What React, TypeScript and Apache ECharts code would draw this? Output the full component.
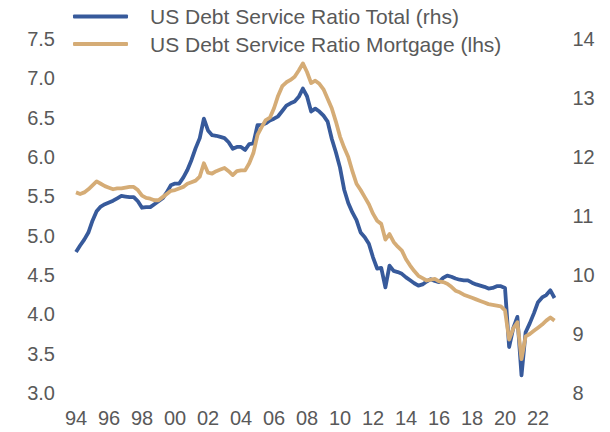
import React, { useEffect, useRef } from "react";
import * as echarts from "echarts";

// Quarterly categories 1994Q1 .. 2023Q1
const years: number[] = [];
for (let y = 1994; y <= 2023; y++) years.push(y);
const quarters: string[] = [];
years.forEach((y) => ["Q1", "Q2", "Q3", "Q4"].forEach((q) => quarters.push(`${y}${q}`)));
const categories = quarters.slice(0, 117);

const xTickLabels = ["94", "96", "98", "00", "02", "04", "06", "08", "10", "12", "14", "16", "18", "20", "22"];
const leftTicks = ["3.0", "3.5", "4.0", "4.5", "5.0", "5.5", "6.0", "6.5", "7.0", "7.5"];
const rightTicks = ["8", "9", "10", "11", "12", "13", "14"];

// US Debt Service Ratio Total (rhs)
const totalDSR = [
  10.39, 10.5, 10.6, 10.72, 10.92, 11.08, 11.16, 11.2, 11.23, 11.26, 11.3, 11.34,
  11.33, 11.32, 11.32, 11.25, 11.14, 11.15, 11.15, 11.2, 11.25, 11.3, 11.4, 11.52,
  11.55, 11.55, 11.65, 11.78, 11.95, 12.15, 12.32, 12.65, 12.45, 12.37, 12.36, 12.34,
  12.32, 12.25, 12.14, 12.17, 12.17, 12.12, 12.22, 12.23, 12.54, 12.54, 12.57, 12.62,
  12.65, 12.69, 12.78, 12.87, 12.91, 12.94, 13.02, 13.16, 13.03, 12.77, 12.82, 12.77,
  12.7, 12.6, 12.31, 12.08, 11.82, 11.45, 11.22, 11.06, 10.93, 10.72, 10.64, 10.53,
  10.3, 10.11, 10.12, 9.79, 10.16, 10.07, 10.05, 10.02, 9.96, 9.91, 9.86, 9.82,
  9.84, 9.89, 9.93, 9.9, 9.88, 9.95, 9.99, 9.97, 9.94, 9.92, 9.91, 9.91,
  9.87, 9.84, 9.82, 9.8, 9.77, 9.78, 9.81, 9.81, 9.78, 8.78, 9.1, 9.29,
  8.3, 9.03, 9.18, 9.35, 9.54, 9.62, 9.66, 9.74, 9.61,
];

// US Debt Service Ratio Mortgage (lhs)
const mortgageDSR = [
  5.55, 5.53, 5.55, 5.59, 5.64, 5.69, 5.66, 5.63, 5.61, 5.59, 5.6, 5.6,
  5.61, 5.62, 5.62, 5.58, 5.51, 5.48, 5.47, 5.45, 5.45, 5.49, 5.53, 5.57,
  5.58, 5.6, 5.62, 5.66, 5.68, 5.7, 5.75, 5.92, 5.8, 5.79, 5.82, 5.84,
  5.86, 5.82, 5.77, 5.82, 5.83, 5.83, 5.92, 6.05, 6.28, 6.38, 6.47, 6.5,
  6.62, 6.78, 6.9, 6.95, 6.98, 7.02, 7.1, 7.19, 7.08, 6.94, 6.97, 6.93,
  6.86, 6.74, 6.62, 6.45, 6.26, 6.12, 6.0, 5.82, 5.66, 5.58, 5.49, 5.4,
  5.28, 5.19, 5.15, 4.95, 5.02, 4.92, 4.86, 4.81, 4.7, 4.62, 4.55, 4.49,
  4.46, 4.43, 4.44, 4.45, 4.42, 4.41, 4.39, 4.35, 4.3, 4.28, 4.25, 4.23,
  4.21, 4.19, 4.17, 4.15, 4.13, 4.12, 4.11, 4.1, 4.05, 3.68, 3.82, 3.9,
  3.43, 3.72, 3.75, 3.79, 3.83, 3.87, 3.92, 3.96, 3.92,
];

const BLUE = "#375a9b";
const TAN = "#d5ac76";
const TEXT = "#595959";
const FONT = "'Liberation Sans', Arial, Helvetica, sans-serif";
const AXIS_FS = 20;
const LEGEND_FS = 21;

export default function App() {
  const ref = useRef<HTMLDivElement>(null);

  useEffect(() => {
    if (!ref.current) return;
    const chart = echarts.init(ref.current, undefined, { renderer: "svg" });
    chart.setOption({
      animation: false,
      backgroundColor: "#ffffff",
      textStyle: { fontFamily: FONT },
      legend: {
        orient: "vertical",
        left: 73,
        top: 6,
        padding: 0,
        itemWidth: 55,
        itemHeight: 4,
        itemGap: 6.6,
        icon: "roundRect",
        data: ["US Debt Service Ratio Total (rhs)", "US Debt Service Ratio Mortgage (lhs)"],
        textStyle: {
          color: TEXT,
          fontSize: LEGEND_FS,
          lineHeight: 21,
          fontFamily: FONT,
          padding: [0, 0, 0, 17],
        },
      },
      grid: { left: 76, right: 55.5, top: 39, bottom: 39, containLabel: false },
      xAxis: {
        type: "category",
        data: categories,
        boundaryGap: false,
        axisLine: { show: false },
        axisTick: { show: false },
        splitLine: { show: false },
        axisLabel: {
          interval: (idx: number) => idx % 8 === 0,
          formatter: (_v: string, idx: number) => xTickLabels[idx / 8] ?? "",
          color: TEXT,
          fontSize: AXIS_FS,
          fontFamily: FONT,
          margin: 15,
        },
      },
      yAxis: [
        {
          type: "value",
          position: "left",
          min: Number(leftTicks[0]),
          max: Number(leftTicks[leftTicks.length - 1]),
          interval: 0.5,
          axisLine: { show: false },
          axisTick: { show: false },
          splitLine: { show: false },
          axisLabel: {
            formatter: (v: number) => v.toFixed(1),
            color: TEXT,
            fontSize: AXIS_FS,
            fontFamily: FONT,
            margin: 21,
          },
        },
        {
          type: "value",
          position: "right",
          min: Number(rightTicks[0]),
          max: Number(rightTicks[rightTicks.length - 1]),
          interval: 1,
          axisLine: { show: false },
          axisTick: { show: false },
          splitLine: { show: false },
          axisLabel: {
            formatter: (v: number) => String(v),
            color: TEXT,
            fontSize: AXIS_FS,
            fontFamily: FONT,
            margin: 18,
            align: "left",
          },
        },
      ],
      series: [
        {
          name: "US Debt Service Ratio Total (rhs)",
          type: "line",
          yAxisIndex: 1,
          data: totalDSR,
          showSymbol: false,
          symbol: "none",
          lineStyle: { color: BLUE, width: 3.8, join: "round" },
          itemStyle: { color: BLUE },
        },
        {
          name: "US Debt Service Ratio Mortgage (lhs)",
          type: "line",
          yAxisIndex: 0,
          data: mortgageDSR,
          showSymbol: false,
          symbol: "none",
          lineStyle: { color: TAN, width: 3.8, join: "round" },
          itemStyle: { color: TAN },
        },
      ],
    });
    return () => chart.dispose();
  }, []);

  return (
    <div
      ref={ref}
      style={{ position: "absolute", left: 0, top: 0, width: 610, height: 432, background: "#fff" }}
    />
  );
}
